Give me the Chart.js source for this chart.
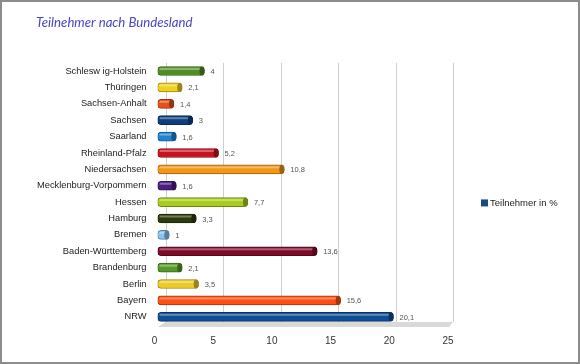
<!DOCTYPE html>
<html>
<head>
<meta charset="utf-8">
<script src="https://cdn.jsdelivr.net/npm/chart.js@4"></script>
<style>
  html, body { margin: 0; padding: 0; background: #fff; }
  #wrap { width: 580px; height: 364px; box-sizing: border-box; border: 2px solid #8c8c8c; position: relative; }
</style>
</head>
<body>
<div id="wrap"><canvas id="barchart"></canvas></div>
<script>
const states = ['Schlesw ig-Holstein', 'Thüringen', 'Sachsen-Anhalt', 'Sachsen', 'Saarland',
  'Rheinland-Pfalz', 'Niedersachsen', 'Mecklenburg-Vorpommern', 'Hessen', 'Hamburg', 'Bremen',
  'Baden-Württemberg', 'Brandenburg', 'Berlin', 'Bayern', 'NRW'];
const teilnehmer = [4, 2.1, 1.4, 3, 1.6, 5.2, 10.8, 1.6, 7.7, 3.3, 1, 13.6, 2.1, 3.5, 15.6, 20.1];
const xTicks = [0, 5, 10, 15, 20, 25];
const seriesName = 'Teilnehmer in %';

const barColors = ['#4f8f22', '#f0d020', '#e8501a', '#0d3f7e', '#1f84d4', '#c8121c', '#f2961a', '#4b1d80',
  '#a8cc1e', '#2c3a0c', '#86c4f0', '#7e0a2a', '#559a2a', '#eccb24', '#ff5014', '#0f4d94'];
const legendColor = '#1a4a80';
const labelFont = '"Liberation Sans", Arial, sans-serif';

function darker(hex) {
  const n = parseInt(hex.slice(1), 16);
  const r = Math.round(((n >> 16) & 255) * 0.65), g = Math.round(((n >> 8) & 255) * 0.65), b = Math.round((n & 255) * 0.65);
  return 'rgb(' + r + ',' + g + ',' + b + ')';
}
const edgeColors = barColors.map(darker);

// back wall, floor, cylinder shine, value labels and legend
const deco = {
  id: 'deco',
  beforeDatasetsDraw(chart) {
    const c = chart.ctx, x = chart.scales.x, a = chart.chartArea;
    const dx = 8, dy = 3;
    const wall = v => a.left + dx + (x.getPixelForValue(v) - a.left) * 0.98;
    c.save();
    c.fillStyle = '#d9d9d9';
    c.beginPath();
    c.moveTo(a.left, a.bottom + 2);
    c.lineTo(x.getPixelForValue(25) - 2, a.bottom + 2);
    c.lineTo(wall(25), a.bottom - dy);
    c.lineTo(wall(0), a.bottom - dy);
    c.closePath();
    c.fill();
    c.strokeStyle = '#cfcfcf';
    c.lineWidth = 1;
    xTicks.forEach(v => {
      const px = Math.round(wall(v)) + 0.5;
      c.beginPath();
      c.moveTo(px, a.top);
      c.lineTo(px, a.bottom - dy);
      c.stroke();
    });
    c.restore();
  },
  afterDatasetsDraw(chart) {
    const c = chart.ctx, a = chart.chartArea;
    const meta = chart.getDatasetMeta(0);
    c.save();
    meta.data.forEach((bar, i) => {
      const h = bar.height;
      c.fillStyle = 'rgba(255,255,255,0.35)';
      c.fillRect(bar.base + 2, bar.y - h / 2 + 1.5, bar.x - bar.base - 6, 2);
      // end cap of the cylinder
      c.fillStyle = edgeColors[i];
      c.beginPath();
      c.ellipse(bar.x - 2.5, bar.y, 2.5, h / 2, 0, 0, Math.PI * 2);
      c.fill();
      c.fillStyle = '#555';
      c.font = '7.5px ' + labelFont;
      c.textBaseline = 'middle';
      c.fillText(String(teilnehmer[i]).replace('.', ','), bar.x + 6, bar.y + 1);
    });
    // legend
    const lx = a.right + 30, ly = (a.top + a.bottom) / 2 + 9;
    c.fillStyle = legendColor;
    c.fillRect(lx, ly - 3.5, 7, 7);
    c.fillStyle = '#222';
    c.font = '9.5px ' + labelFont;
    c.fillText(seriesName, lx + 9, ly + 0.5);
    c.restore();
  }
};

const config = {
  type: 'bar',
  data: {
    labels: states,
    datasets: [{
      label: seriesName,
      data: teilnehmer,
      backgroundColor: barColors,
      borderColor: edgeColors,
      borderWidth: 1,
      borderRadius: 4,
      borderSkipped: false,
      barThickness: 9
    }]
  },
  options: {
    indexAxis: 'y',
    responsive: false,
    animation: false,
    layout: { padding: { left: 34, right: 127, top: 0, bottom: 5 } },
    scales: {
      x: {
        min: 0, max: 25,
        afterBuildTicks(axis) { axis.ticks = xTicks.map(v => ({ value: v })); },
        grid: { display: false, drawTicks: false },
        border: { display: false },
        ticks: { color: '#333', padding: 10, labelOffset: -3, font: { family: labelFont, size: 10 } }
      },
      y: {
        afterFit(axis) { axis.width -= 10; },
        grid: { display: false, drawTicks: false },
        border: { display: false },
        ticks: { color: '#222', padding: 11, font: { family: labelFont, size: 9.3 } }
      }
    },
    plugins: {
      title: {
        display: true,
        text: 'Teilnehmer nach Bundesland',
        align: 'start',
        color: '#4646c4',
        font: { family: 'Lato, "Open Sans", sans-serif', size: 13.2, style: 'italic', weight: 'normal' },
        padding: { top: 13, bottom: 32 }
      },
      legend: { display: false },
      tooltip: { enabled: false }
    }
  },
  plugins: [deco]
};

const cv = document.getElementById('barchart');
cv.width = 576;
cv.height = 360;
new Chart(cv, config);
</script>
</body>
</html>
